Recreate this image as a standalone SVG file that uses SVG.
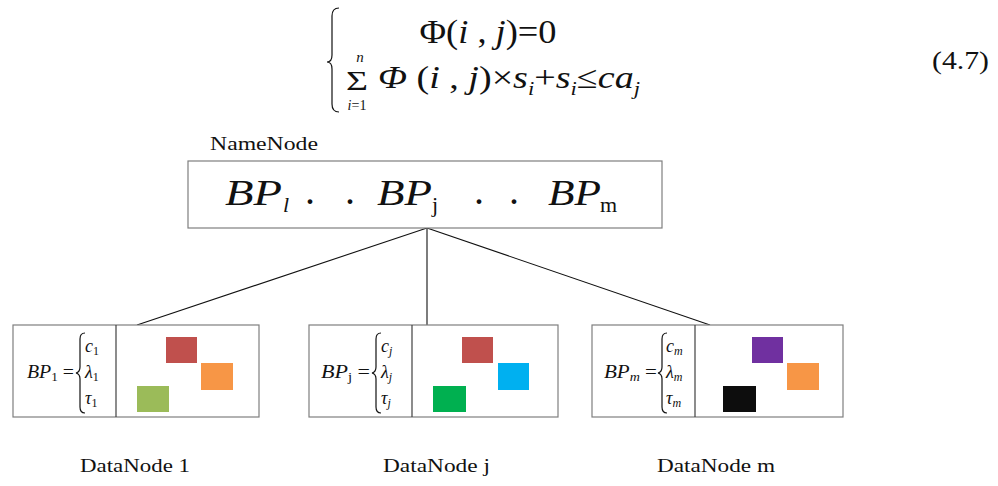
<svg xmlns="http://www.w3.org/2000/svg" width="998" height="486" viewBox="0 0 998 486">
<style>
text{font-family:"Liberation Serif","Times New Roman",serif;fill:#111}
.it{font-style:italic}
.box{fill:#fff;stroke:#7f7f7f;stroke-width:1.2}
.div{stroke:#404040;stroke-width:1.2}
.br{fill:none;stroke:#111;stroke-width:1.2}
.con{stroke:#111;stroke-width:1.1;fill:none}
.bp{font-size:36px;font-style:italic}
.dot{font-size:40px}
.sub{font-size:22px}
.lbl{font-size:19px}
.in{font-size:18px}
.cv{font-size:18px;font-style:italic}
</style>
<rect width="998" height="486" fill="#fff"/>
<g id="equation">
<path class="br" d="M339,8 Q332,8 332,16 L332,55 Q332,62 327,62 Q332,62 332,69 L332,104 Q332,112 339,112" stroke-width="1.5"/>
<text x="488" y="43" font-size="33" text-anchor="middle" textLength="137" lengthAdjust="spacingAndGlyphs">Φ(<tspan class="it">i</tspan> , <tspan class="it">j</tspan>)=0</text>
<text x="357" y="90" font-size="28" text-anchor="middle" textLength="22" lengthAdjust="spacingAndGlyphs">Σ</text>
<text x="360" y="62" font-size="15" class="it" text-anchor="middle">n</text>
<text x="357" y="110" font-size="14" text-anchor="middle"><tspan class="it">i</tspan>=1</text>
<text x="378" y="88" font-size="32" textLength="262" lengthAdjust="spacingAndGlyphs"><tspan class="it">Φ</tspan> (<tspan class="it">i</tspan> , <tspan class="it">j</tspan>)×<tspan class="it">s</tspan><tspan class="it" font-size="19" dy="7">i</tspan><tspan dy="-7">+</tspan><tspan class="it">s</tspan><tspan class="it" font-size="19" dy="7">i</tspan><tspan dy="-7">≤</tspan><tspan class="it">ca</tspan><tspan class="it" font-size="19" dy="7">j</tspan></text>
<text x="932" y="69" font-size="26" textLength="57" lengthAdjust="spacingAndGlyphs">(4.7)</text>
</g>
<g id="connectors">
<line class="con" x1="427" y1="228" x2="137" y2="325"/>
<line class="con" x1="427" y1="228" x2="427" y2="325"/>
<line class="con" x1="427" y1="228" x2="710" y2="325"/>
</g>
<g id="namenode">
<text x="210" y="150" class="lbl" textLength="108" lengthAdjust="spacingAndGlyphs">NameNode</text>
<rect class="box" x="188" y="161" width="474" height="67"/>
<text x="225" y="205" class="bp" textLength="57" lengthAdjust="spacingAndGlyphs">BP</text>
<text x="283" y="212" class="sub it">l</text>
<text x="305" y="204" class="dot">.</text>
<text x="345" y="204" class="dot">.</text>
<text x="377" y="205" class="bp" textLength="55" lengthAdjust="spacingAndGlyphs">BP</text>
<text x="432" y="212" class="sub">j</text>
<text x="474" y="204" class="dot">.</text>
<text x="509" y="204" class="dot">.</text>
<text x="548" y="205" class="bp" textLength="53" lengthAdjust="spacingAndGlyphs">BP</text>
<text x="600" y="212" class="sub">m</text>
</g>
<g id="datanode1">
<rect class="box" x="13" y="325" width="246" height="92"/>
<line class="div" x1="116" y1="325" x2="116" y2="417"/>
<text x="27" y="378" class="in" textLength="47" lengthAdjust="spacingAndGlyphs"><tspan class="it">BP</tspan><tspan font-size="12" dy="3">1</tspan><tspan dy="-3"> =</tspan></text>
<path class="br" d="M85,333 Q80,333 80,339 L80,367 Q80,372 76,373 Q80,374 80,379 L80,407 Q80,413 85,413"/>
<text x="85" y="352" class="cv">c<tspan font-style="normal" font-size="12" dy="3">1</tspan></text>
<text x="85" y="378" class="cv">λ<tspan font-style="normal" font-size="12" dy="3">1</tspan></text>
<text x="85" y="404" class="cv">τ<tspan font-style="normal" font-size="12" dy="3">1</tspan></text>
<rect x="166" y="337" width="31" height="26" fill="#C0504D"/>
<rect x="201" y="363" width="32" height="27" fill="#F79646"/>
<rect x="137" y="386" width="32" height="26" fill="#9BBB59"/>
<text x="80" y="472" class="lbl" textLength="110" lengthAdjust="spacingAndGlyphs">DataNode 1</text>
</g>
<g id="datanodej">
<rect class="box" x="309" y="325" width="249" height="92"/>
<line class="div" x1="412" y1="325" x2="412" y2="417"/>
<text x="321" y="378" class="in" textLength="49" lengthAdjust="spacingAndGlyphs"><tspan class="it">BP</tspan><tspan font-size="12" dy="3">j</tspan><tspan dy="-3"> =</tspan></text>
<path class="br" d="M381,333 Q376,333 376,339 L376,367 Q376,372 372,373 Q376,374 376,379 L376,407 Q376,413 381,413"/>
<text x="381" y="352" class="cv">c<tspan font-size="12" dy="3">j</tspan></text>
<text x="381" y="378" class="cv">λ<tspan font-size="12" dy="3">j</tspan></text>
<text x="381" y="404" class="cv">τ<tspan font-size="12" dy="3">j</tspan></text>
<rect x="462" y="337" width="31" height="26" fill="#C0504D"/>
<rect x="498" y="363" width="31" height="27" fill="#00B0F0"/>
<rect x="433" y="386" width="33" height="26" fill="#00B050"/>
<text x="383" y="472" class="lbl" textLength="107" lengthAdjust="spacingAndGlyphs">DataNode j</text>
</g>
<g id="datanodem">
<rect class="box" x="592" y="325" width="251" height="92"/>
<line class="div" x1="695" y1="325" x2="695" y2="417"/>
<text x="604" y="378" class="in" textLength="53" lengthAdjust="spacingAndGlyphs"><tspan class="it">BP</tspan><tspan class="it" font-size="12" dy="3">m</tspan><tspan dy="-3"> =</tspan></text>
<path class="br" d="M667,333 Q662,333 662,339 L662,367 Q662,372 658,373 Q662,374 662,379 L662,407 Q662,413 667,413"/>
<text x="666" y="352" class="cv">c<tspan font-size="12" dy="3">m</tspan></text>
<text x="666" y="378" class="cv">λ<tspan font-size="12" dy="3">m</tspan></text>
<text x="666" y="404" class="cv">τ<tspan font-size="12" dy="3">m</tspan></text>
<rect x="752" y="337" width="31" height="26" fill="#7030A0"/>
<rect x="787" y="363" width="32" height="27" fill="#F79646"/>
<rect x="723" y="386" width="33" height="26" fill="#0D0D0D"/>
<text x="657" y="472" class="lbl" textLength="118" lengthAdjust="spacingAndGlyphs">DataNode m</text>
</g>
</svg>
